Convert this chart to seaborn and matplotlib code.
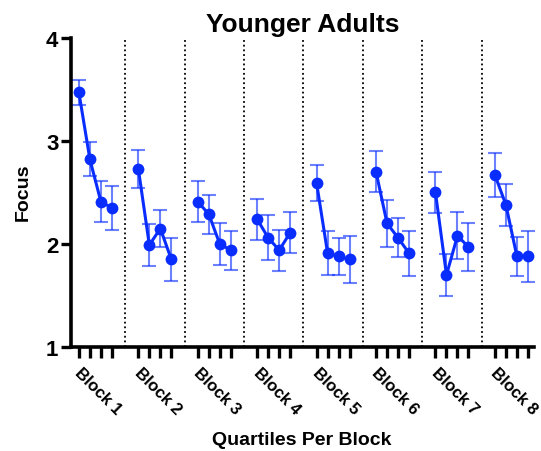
import numpy as np
import pandas as pd
import matplotlib
matplotlib.use("Agg")
import matplotlib.pyplot as plt
import matplotlib.transforms as mtransforms
import seaborn as sns

blocks = ["Block 1", "Block 2", "Block 3", "Block 4", "Block 5", "Block 6", "Block 7", "Block 8"]
quartiles = [1, 2, 3, 4]
focus_means = [
    [3.47, 2.82, 2.41, 2.35],
    [2.73, 1.99, 2.15, 1.85],
    [2.41, 2.29, 2.00, 1.94],
    [2.24, 2.06, 1.94, 2.11],
    [2.59, 1.91, 1.88, 1.85],
    [2.70, 2.20, 2.06, 1.91],
    [2.50, 1.70, 2.08, 1.97],
    [2.67, 2.38, 1.88, 1.88],
]
focus_err = [
    [0.12, 0.165, 0.20, 0.21],
    [0.185, 0.20, 0.18, 0.21],
    [0.20, 0.19, 0.20, 0.19],
    [0.20, 0.22, 0.20, 0.20],
    [0.175, 0.215, 0.18, 0.23],
    [0.20, 0.225, 0.19, 0.22],
    [0.20, 0.205, 0.23, 0.23],
    [0.21, 0.205, 0.19, 0.25],
]

block_step = 5.4
rows = []
for b, name in enumerate(blocks):
    for q, qv in enumerate(quartiles):
        rows.append({"block": name, "quartile": qv,
                     "x": b * block_step + q,
                     "focus": focus_means[b][q], "err": focus_err[b][q]})
df = pd.DataFrame(rows)

sns.set_style("ticks")
plt.rcParams["font.family"] = ["Liberation Sans", "DejaVu Sans"]
plt.rcParams["font.weight"] = "bold"
plt.rcParams["text.color"] = "black"
plt.rcParams["axes.labelcolor"] = "black"
plt.rcParams["xtick.color"] = "black"
plt.rcParams["ytick.color"] = "black"
plt.rcParams["axes.edgecolor"] = "black"

blue = "#0A2DFF"
fig = plt.figure(figsize=(5.41, 4.52), dpi=100)
ax = fig.add_axes([0.131, 0.230, 0.856, 0.684])

# error bars (lighter)
ax.errorbar(df["x"], df["focus"], yerr=df["err"], fmt="none",
            ecolor=blue, alpha=0.6, elinewidth=1.5, capsize=4.8, capthick=1.5, zorder=2)

sns.lineplot(data=df, x="x", y="focus", units="block", estimator=None,
             color=blue, marker="o", markersize=8.5, markeredgewidth=0,
             linewidth=2.2, ax=ax, zorder=3, legend=False)

# dotted separators between blocks
for b in range(1, len(blocks)):
    xs = b * block_step - (block_step - 3) / 2
    ax.axvline(xs, color="black", linestyle=(0, (1, 1.6)), linewidth=1.3, zorder=1)

ax.set_ylim(1, 4)
ax.set_xlim(-0.73, (len(blocks) - 1) * block_step + 3 + 0.55)
ax.set_yticks([1, 2, 3, 4])
ax.set_yticklabels(["1", "2", "3", "4"], fontsize=16, fontweight="bold")
ax.set_xticks(df["x"])
ax.set_xticklabels([])

trans = mtransforms.blended_transform_factory(ax.transData, ax.transAxes)
for b, name in enumerate(blocks):
    ax.text(b * block_step + 0.35, -0.055, name, transform=trans, rotation=-45,
            rotation_mode="anchor", ha="left", va="top",
            fontsize=12, fontweight="bold", color="black")

for side in ["top", "right"]:
    ax.spines[side].set_visible(False)
for side in ["left", "bottom"]:
    ax.spines[side].set_linewidth(2.6)
ax.tick_params(axis="both", width=2.4, length=7, color="black", pad=2)
ax.tick_params(axis="x", length=8)

ax.set_title("Younger Adults", fontsize=19, fontweight="bold", pad=5, color="black")
ax.set_ylabel("Focus", fontsize=14, fontweight="bold")
ax.yaxis.set_label_coords(-0.085, 0.505)
ax.set_xlabel("Quartiles Per Block", fontsize=14, fontweight="bold")
ax.xaxis.set_label_coords(0.499, -0.27)

fig.savefig("out.png", dpi=100)
